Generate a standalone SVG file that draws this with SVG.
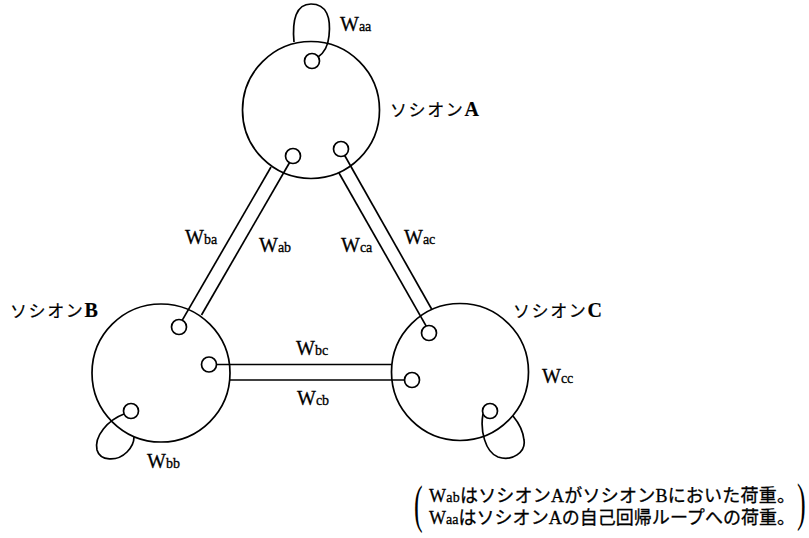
<svg xmlns="http://www.w3.org/2000/svg" width="809" height="538" viewBox="0 0 809 538">
<style>
.big{fill:none;stroke:#000;stroke-width:1.7}
.sm{fill:#fff;stroke:#000;stroke-width:1.7}
.ln{fill:none;stroke:#000;stroke-width:1.7}
.w{font-family:"Liberation Serif",serif;font-size:20px;fill:#000;stroke:#000;stroke-width:0.3}
.s{font-size:14px}
.jp{font-family:"Liberation Serif","Noto Sans CJK JP",serif;font-size:17px;letter-spacing:1.6px;fill:#000;stroke:#000;stroke-width:0.2}
.L{font-size:20px;font-weight:bold}
.note{font-family:"Liberation Serif","Noto Sans CJK JP",serif;font-size:18px;fill:#000;stroke:#000;stroke-width:0.3}
.par{font-family:"Liberation Serif",serif;font-size:26px;fill:#000}
</style>
<rect width="809" height="538" fill="#fff"/>
<g id="connectors">
<line class="ln" x1="271" y1="167" x2="182.3" y2="320.1"/>
<line class="ln" x1="289.6" y1="162.5" x2="201.5" y2="315"/>
<line class="ln" x1="339" y1="173" x2="426.2" y2="326.1"/>
<line class="ln" x1="344.7" y1="155.5" x2="431.6" y2="309"/>
<line class="ln" x1="216.5" y1="364.5" x2="392" y2="364.5"/>
<line class="ln" x1="229.6" y1="380" x2="404.5" y2="380"/>
<path class="ln" d="M294,42 C292,20 296,4 311,4 C327,4 331,18 329,36 C328,46 324,53 318,57"/>
<path class="ln" d="M124,414 C108,420 94,436 97,450 C100,461 117,462 127,452 C131,448 134,442 134,437"/>
<path class="ln" d="M483,414 C480,430 485,452 498,457 C512,462 526,452 524,440 C523,430 518,422 513,416"/>
</g>
<g id="nodeA">
<circle class="big" cx="311" cy="110" r="68.5"/>
<circle class="sm" cx="312" cy="61" r="7.5"/>
<circle class="sm" cx="293" cy="156" r="7.5"/>
<circle class="sm" cx="341" cy="149" r="7.5"/>
<text class="jp" x="390" y="116">ソシオン<tspan class="L">A</tspan></text>
</g>
<g id="nodeB">
<circle class="big" cx="161" cy="373" r="69"/>
<circle class="sm" cx="179" cy="327" r="7.5"/>
<circle class="sm" cx="209" cy="364.5" r="7.5"/>
<circle class="sm" cx="131" cy="411" r="7.5"/>
<text class="jp" x="10" y="317">ソシオン<tspan class="L">B</tspan></text>
</g>
<g id="nodeC">
<circle class="big" cx="460" cy="372" r="68.5"/>
<circle class="sm" cx="429" cy="333" r="7.5"/>
<circle class="sm" cx="412" cy="380" r="7.5"/>
<circle class="sm" cx="490" cy="411" r="7.5"/>
<text class="jp" x="513" y="317">ソシオン<tspan class="L">C</tspan></text>
</g>
<g id="labels">
<text class="w" x="340" y="31">W<tspan class="s">aa</tspan></text>
<text class="w" x="185" y="244">W<tspan class="s">ba</tspan></text>
<text class="w" x="259" y="252">W<tspan class="s">ab</tspan></text>
<text class="w" x="341" y="252">W<tspan class="s">ca</tspan></text>
<text class="w" x="404" y="244">W<tspan class="s">ac</tspan></text>
<text class="w" x="296" y="355">W<tspan class="s">bc</tspan></text>
<text class="w" x="297" y="405">W<tspan class="s">cb</tspan></text>
<text class="w" x="147" y="468">W<tspan class="s">bb</tspan></text>
<text class="w" x="542" y="383">W<tspan class="s">cc</tspan></text>
</g>
<g id="note">
<text class="par" transform="translate(414,522) scale(1,2)">(</text>
<text class="par" transform="translate(797,520) scale(1,2)">)</text>
<text class="note" x="429" y="502" textLength="366" lengthAdjust="spacing">W<tspan class="s">ab</tspan>はソシオンAがソシオンBにおいた荷重。</text>
<text class="note" x="429" y="524" textLength="366" lengthAdjust="spacing">W<tspan class="s">aa</tspan>はソシオンAの自己回帰ループへの荷重。</text>
</g>
</svg>
